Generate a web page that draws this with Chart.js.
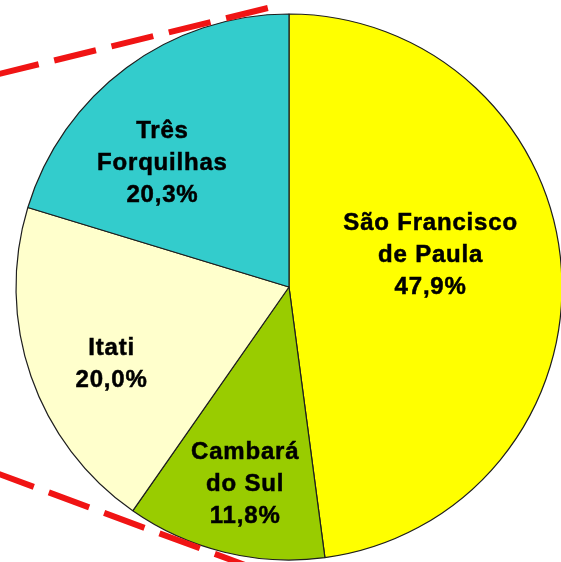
<!DOCTYPE html>
<html>
<head>
<meta charset="utf-8">
<script src="https://cdn.jsdelivr.net/npm/chart.js@4"></script>
<style>
  html, body { margin: 0; padding: 0; background: #fff; overflow: hidden; }
  #wrap { width: 561px; height: 562px; overflow: hidden; position: relative; }
  #pie { position: absolute; left: 0; top: 0; }
</style>
</head>
<body>
<div id="wrap"><canvas id="pie" width="578" height="574"></canvas></div>
<script>
// ===== DATA =====
const municipios = ['São Francisco de Paula', 'Cambará do Sul', 'Itati', 'Três Forquilhas'];
const nameLines = [['São Francisco', 'de Paula'], ['Cambará', 'do Sul'], ['Itati'], ['Três', 'Forquilhas']];
const percentuais = [47.9, 11.8, 20.0, 20.3];

// ===== STYLE =====
const sliceColors = ['#ffff00', '#99cc00', '#ffffcc', '#33cccc'];
// where each label sits: fraction of radius, and angle nudge (deg) off the slice middle
const labelRadius = [0.53, 0.74, 0.71, 0.65];
const labelNudge = [-9, -1, -4.3, -9.2];
const PIE_R = 273;

const fmtPct = (v) => v.toFixed(1).replace('.', ',') + '%';

// labels inside the slices
const sliceLabels = {
  id: 'sliceLabels',
  afterDatasetsDraw(chart) {
    const ctx = chart.ctx;
    const arcs = chart.getDatasetMeta(0).data;
    ctx.save();
    ctx.font = 'bold 24px "Liberation Sans", Arial, sans-serif';
    ctx.letterSpacing = '0.8px';
    ctx.fillStyle = '#000';
    ctx.strokeStyle = '#000';
    ctx.lineWidth = 0.5;
    ctx.textAlign = 'center';
    ctx.textBaseline = 'middle';
    arcs.forEach((arc, i) => {
      const p = arc.getProps(['x', 'y', 'startAngle', 'endAngle', 'outerRadius'], true);
      const mid = (p.startAngle + p.endAngle) / 2 + labelNudge[i] * Math.PI / 180;
      const r = p.outerRadius * labelRadius[i];
      const cx = p.x + Math.cos(mid) * r;
      const cy = p.y + Math.sin(mid) * r;
      const lines = nameLines[i].concat([fmtPct(percentuais[i])]);
      const lh = 32;
      lines.forEach((t, k) => {
        const y = cy + (k - (lines.length - 1) / 2) * lh;
        ctx.fillText(t, cx + 0.5, y);
        ctx.strokeText(t, cx + 0.5, y);
      });
    });
    ctx.restore();
  }
};

// red dashed connector lines, tangent to the pie on the left
const connectors = {
  id: 'connectors',
  afterDatasetsDraw(chart) {
    const arc = chart.getDatasetMeta(0).data[0];
    const p = arc.getProps(['x', 'y', 'outerRadius'], true);
    const ctx = chart.ctx;
    // angle measured clockwise from 12 o'clock, extension past the tangent point
    const lines = [
      { deg: -13.8, ext: 46 },
      { deg: 200.3, ext: 66 }
    ];
    ctx.save();
    ctx.strokeStyle = '#f01414';
    ctx.lineWidth = 6;
    ctx.setLineDash([43, 16]);
    lines.forEach(l => {
      const a = l.deg * Math.PI / 180;
      const d = p.outerRadius + 3;
      const tx = p.x + Math.sin(a) * d;
      const ty = p.y - Math.cos(a) * d;
      // tangent direction heading right
      let ux = Math.cos(a), uy = Math.sin(a);
      if (ux < 0) { ux = -ux; uy = -uy; }
      const ex = tx + ux * l.ext, ey = ty + uy * l.ext;
      ctx.beginPath();
      ctx.moveTo(ex, ey);
      ctx.lineTo(ex - ux * 700, ey - uy * 700);
      ctx.stroke();
    });
    ctx.restore();
  }
};

new Chart(document.getElementById('pie'), {
  type: 'pie',
  data: {
    labels: municipios,
    datasets: [{
      data: percentuais,
      backgroundColor: sliceColors,
      borderColor: '#1e1e1e',
      borderWidth: 1.2
    }]
  },
  options: {
    responsive: false,
    animation: false,
    radius: PIE_R,
    layout: { padding: 0 },
    plugins: { legend: { display: false }, tooltip: { enabled: false } }
  },
  plugins: [sliceLabels, connectors]
});
</script>
</body>
</html>
